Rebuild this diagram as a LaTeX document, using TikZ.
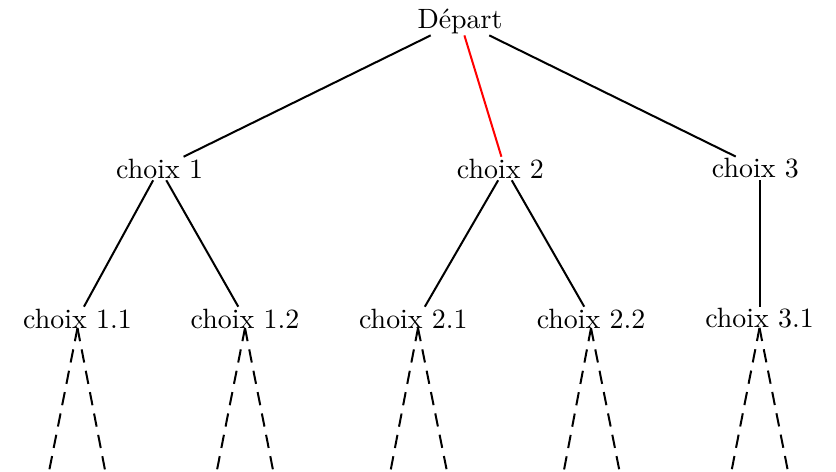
\documentclass[tikz,border=0pt]{standalone}
\begin{document}
\begin{tikzpicture}[x=0.3584pt, y=-0.3584pt,
  every node/.style={inner sep=0.5pt},
  link/.style={line width=0.72pt},
  chosen/.style={link, red},
  open/.style={link, dash pattern=on 4.8pt off 3pt}]
  \useasboundingbox (0,0) rectangle (836,472);

  % root and first choices
  \node (dep) at (460,21) {Départ};
  \node (c1) at (159.6,168.5) {choix 1};
  \node (c2) at (505,168.5) {choix 2\ \null};
  \node (c3) at (760,168.5) {choix 3\ \null};

  % second-level choices
  \node (c11) at (77.5,318.5) {choix 1.1};
  \node (c12) at (245,318.5) {choix 1.2};
  \node (c21) at (418,318.5) {choix 2.1\ \null};
  \node (c22) at (591,318.5) {choix 2.2};
  \node (c31) at (759.5,318.5) {choix 3.1};

  % loose ends of the unexplored branches
  \coordinate (l11a) at (49.3,470);  \coordinate (l11b) at (105,470);
  \coordinate (l12a) at (217,470);   \coordinate (l12b) at (273,470);
  \coordinate (l21a) at (390.7,470); \coordinate (l21b) at (446.7,470);
  \coordinate (l22a) at (564,470);   \coordinate (l22b) at (619.3,470);
  \coordinate (l31a) at (731.7,470); \coordinate (l31b) at (787.7,470);

  \draw[link] (dep) -- (c1);
  \draw[chosen] (dep) -- (c2);
  \draw[link] (dep) -- (c3);

  \draw[link] (c1) -- (c11);
  \draw[link] (c1) -- (c12);
  \draw[link] (c2) -- (c21);
  \draw[link] (c2) -- (c22);
  \draw[link] (c31.north) -- (c31.north |- c3.south);

  \foreach \n in {11,12,21,22,31}{
    \draw[open] (c\n.base) -- (l\n a);
    \draw[open] (c\n.base) -- (l\n b);
  }
\end{tikzpicture}
\end{document}
